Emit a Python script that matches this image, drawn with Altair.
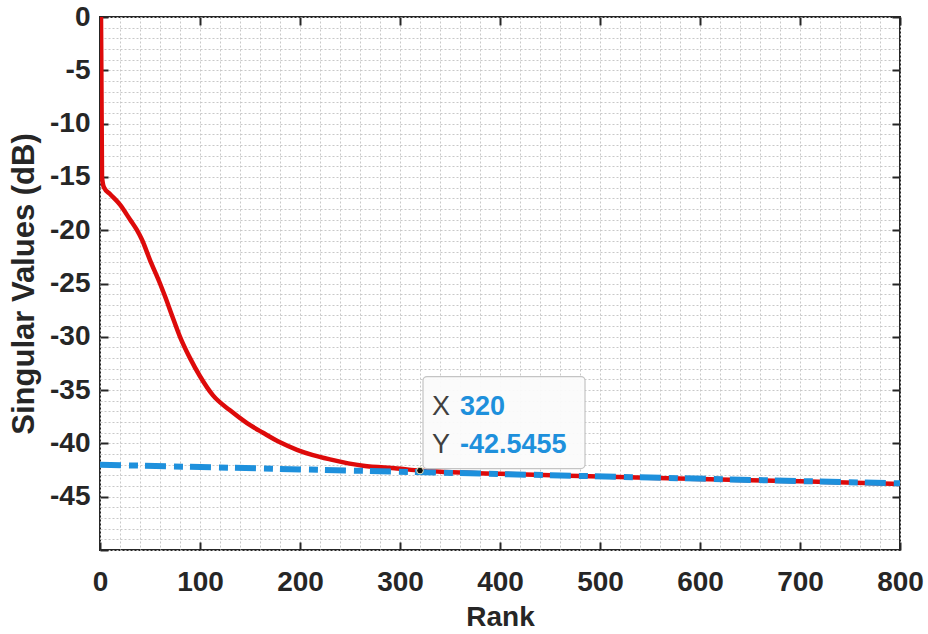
import altair as alt
import pandas as pd

# ---- data ----
rank = [1, 2, 4, 10, 20, 30, 37, 42, 50, 60, 65, 72, 80, 90, 100, 113, 130, 147,
        163, 180, 197, 213, 230, 263, 297, 320, 400, 500, 600, 700, 800]
singular_db = [0, -15.0, -16.0, -16.6, -17.6, -19.0, -20.0, -20.9, -22.8, -25.0,
               -26.2, -28.0, -30.0, -32.0, -33.7, -35.5, -36.9, -38.1, -39.0,
               -39.9, -40.6, -41.1, -41.5, -42.1, -42.35, -42.5455, -42.85,
               -43.1, -43.35, -43.55, -43.8]
fit_rank = [0, 800]
fit_db = [-42.0, -43.75]
tip_x = [320]
tip_y = [-42.5455]
tip_x_label = ["320"]
tip_y_label = ["-42.5455"]
x_grid = list(range(0, 801, 20))
y_grid = list(range(-50, 1, 1))
x_major = list(range(0, 801, 100))
y_major = list(range(-45, 1, 5))

FONT = "Liberation Sans"
DARK = "#262626"
RED = "#dd0a0a"
BLUE = "#1e90dc"
GRID = "#c8c8c8"

red_df = pd.DataFrame({"rank": rank, "db": singular_db})
fit_df = pd.DataFrame({"rank": fit_rank, "db": fit_db})
tip_df = pd.DataFrame({"rank": tip_x, "db": tip_y, "xl": tip_x_label, "yl": tip_y_label})

xscale = alt.Scale(domain=[0, 800], nice=False, zero=False)
yscale = alt.Scale(domain=[-50, 0], nice=False, zero=False)

x_bottom = alt.Axis(
    values=x_grid, labelExpr="datum.value % 100 === 0 ? '' + datum.value : ''",
    labelOverlap=False, labelFlush=False, labelFontSize=28, labelFontWeight="bold",
    labelFont=FONT, labelColor=DARK, labelPadding=18, grid=True, gridDash=[2, 2],
    gridColor=GRID, gridWidth=1, domain=False, ticks=True, tickSize=8, tickWidth=2,
    tickColor=DARK,
    tickOpacity={"condition": {"test": "datum.value % 100 === 0", "value": 1}, "value": 0},
    offset=-8, title="Rank", titleFont=FONT, titleFontSize=28, titleFontWeight="bold",
    titleColor=DARK, titlePadding=7,
)
y_left = alt.Axis(
    values=y_grid,
    labelExpr="datum.value % 5 === 0 && datum.value > -50 ? '' + datum.value : ''",
    labelOverlap=False, labelFlush=False, labelFontSize=28, labelFontWeight="bold",
    labelFont=FONT, labelColor=DARK, labelPadding=10, grid=True, gridDash=[2, 2],
    gridColor=GRID, gridWidth=1, domain=False, ticks=True, tickSize=8, tickWidth=2,
    tickColor=DARK,
    tickOpacity={"condition": {"test": "datum.value % 5 === 0", "value": 1}, "value": 0},
    offset=-8, title="Singular Values (dB)", titleFont=FONT, titleFontSize=31,
    titleFontWeight="bold", titleColor=DARK, titlePadding=9,
)
x_top = alt.Axis(orient="top", values=x_major, labels=False, ticks=True, tickSize=8,
                 tickWidth=2, tickColor=DARK, domain=False, grid=False, offset=-8, title=None)
y_right = alt.Axis(orient="right", values=y_major, labels=False, ticks=True, tickSize=8,
                   tickWidth=2, tickColor=DARK, domain=False, grid=False, offset=-8, title=None)

red = alt.Chart(red_df).mark_line(color=RED, strokeWidth=4.5, clip=True,
                                  strokeJoin="round", interpolate="monotone").encode(
    x=alt.X("rank:Q", scale=xscale, axis=x_bottom),
    y=alt.Y("db:Q", scale=yscale, axis=y_left),
)

blue = alt.Chart(fit_df).mark_line(color=BLUE, strokeWidth=6, strokeDash=[21, 8, 9, 7],
                                   strokeCap="butt", clip=True).encode(
    x=alt.X("rank:Q", scale=xscale, axis=x_top),
    y=alt.Y("db:Q", scale=yscale, axis=y_right),
)

box = alt.Chart(tip_df).mark_rect(
    fill="#fbfbfb", fillOpacity=0.95, stroke="#c4c4c4", strokeWidth=1.2,
    cornerRadius=4, xOffset=3, x2Offset=165, yOffset=-94, y2Offset=-2,
).encode(
    x=alt.X("rank:Q", scale=xscale, axis=None), x2="rank:Q",
    y=alt.Y("db:Q", scale=yscale, axis=None), y2="db:Q",
)

base_text = dict(align="left", baseline="alphabetic", fontSize=27, font=FONT)
tx = alt.Chart(tip_df).mark_text(text="X", dx=12, dy=-56, color="#404040", **base_text).encode(
    x=alt.X("rank:Q", scale=xscale, axis=None), y=alt.Y("db:Q", scale=yscale, axis=None))
ty = alt.Chart(tip_df).mark_text(text="Y", dx=12, dy=-18, color="#404040", **base_text).encode(
    x=alt.X("rank:Q", scale=xscale, axis=None), y=alt.Y("db:Q", scale=yscale, axis=None))
vx = alt.Chart(tip_df).mark_text(dx=40, dy=-56, color=BLUE, fontWeight="bold", **base_text).encode(
    x=alt.X("rank:Q", scale=xscale, axis=None), y=alt.Y("db:Q", scale=yscale, axis=None),
    text="xl:N")
vy = alt.Chart(tip_df).mark_text(dx=40, dy=-18, color=BLUE, fontWeight="bold", **base_text).encode(
    x=alt.X("rank:Q", scale=xscale, axis=None), y=alt.Y("db:Q", scale=yscale, axis=None),
    text="yl:N")
dot = alt.Chart(tip_df).mark_point(filled=True, shape="circle", size=45, color="#111111",
                                   stroke="#e8e8c0", strokeWidth=1, opacity=1).encode(
    x=alt.X("rank:Q", scale=xscale, axis=None), y=alt.Y("db:Q", scale=yscale, axis=None))

chart = alt.layer(red, blue, box, tx, ty, vx, vy, dot).resolve_axis(
    x="independent", y="independent"
).properties(
    width=800, height=533,
    autosize=alt.AutoSizeParams(type="none"),
    padding={"left": 100, "top": 17, "right": 28, "bottom": 84},
    background="white",
).configure_view(stroke=DARK, strokeWidth=2)

chart.save("out.html", embed_options={"renderer": "svg", "actions": False})
